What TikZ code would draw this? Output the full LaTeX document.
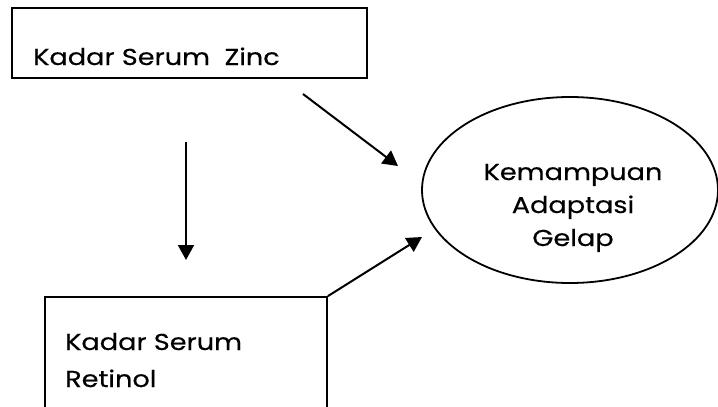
\documentclass[tikz,border=0pt]{standalone}
\usepackage{fontspec}
\setmainfont{Poppins}[FakeStretch=1.18,FakeBold=0.4]
\usetikzlibrary{arrows.meta,shapes.geometric}
\begin{document}
\begin{tikzpicture}[x=1pt,y=-1pt,
  box/.style={draw,line width=1.8pt,inner sep=0pt},
  lbl/.style={font=\fontsize{23}{28}\selectfont,inner sep=0pt},
  conn/.style={line width=2pt,-{Triangle[width=16pt,length=15pt]}}]
\useasboundingbox (0,0) rectangle (718,407);
\clip (0,0) rectangle (718,407);
\fill[white] (0,0) rectangle (718,407);
\node[box,minimum width=355pt,minimum height=70pt] (zinc) at (189.5,43) {};
\node[lbl,anchor=base west] (zinctxt) at (33,65) {Kadar Serum\ \ Zinc};
\node[box,minimum width=282pt,minimum height=146pt] (retinol) at (186,370) {};
\node[lbl,anchor=base west] (rettxt1) at (65,350) {Kadar Serum};
\node[lbl,anchor=base west] (rettxt2) at (65,387) {Retinol};
\node[draw,ellipse,line width=1.8pt,minimum width=296pt,minimum height=186pt,inner sep=0pt] (gelap) at (570,190) {};
\node[lbl,anchor=base] (g1) at (573,180) {Kemampuan};
\node[lbl,anchor=base] (g2) at (573,213) {Adaptasi};
\node[lbl,anchor=base] (g3) at (573,246) {Gelap};
\coordinate (v1) at (186,142);
\coordinate (v2) at (186,260);
\coordinate (z1) at (303,94);
\coordinate (z2) at (398,166);
\coordinate (r2) at (422,237);
\draw[conn] (v1) -- (v2);
\draw[conn] (z1) -- (z2);
\draw[conn] (retinol.north east) -- (r2);
\end{tikzpicture}
\end{document}
